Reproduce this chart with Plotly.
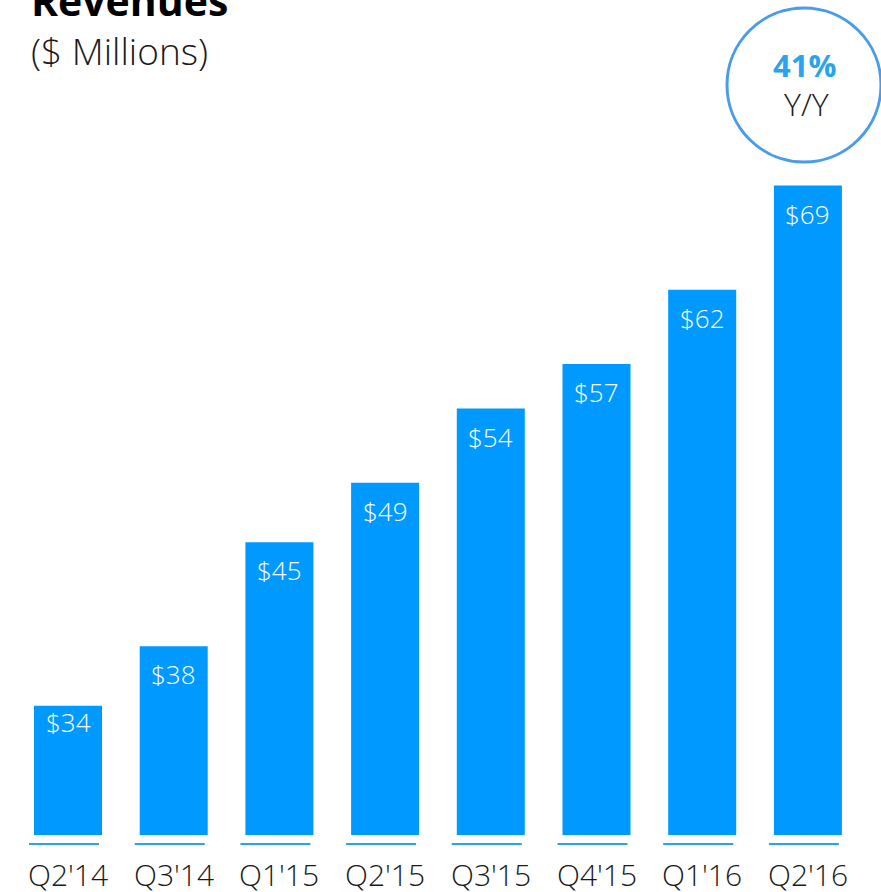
import plotly.graph_objects as go

# Quarterly revenue, $ millions
quarters = ["Q2'14", "Q3'14", "Q1'15", "Q2'15", "Q3'15", "Q4'15", "Q1'16", "Q2'16"]
revenue = [34, 38, 45, 49, 54, 57, 62, 69]
bar_labels = ["$34", "$38", "$45", "$49", "$54", "$57", "$62", "$69"]
yoy_growth = "41%"

W, H = 881, 892
PLOT_BOTTOM = 835          # pixel row of the bar baseline
PLOT_H = PLOT_BOTTOM       # plot area spans from the top edge to the baseline

BAR_BLUE = "#0099FF"
ACCENT = "#2AA3EF"
RING = "#4A9BE8"
INK = "#1a1a1a"
LIGHT = 300
FONT = "Open Sans"

y_floor = 25.3
px_per_unit = 14.86
y_top = y_floor + PLOT_H / px_per_unit

first_center, pitch = 68.0, 105.7
x_lo = -first_center / pitch
x_hi = x_lo + W / pitch


def py(p):
    """pixel row -> paper y"""
    return (PLOT_BOTTOM - p) / PLOT_H


def px(p):
    """pixel column -> paper x"""
    return p / W


xs = list(range(len(quarters)))

fig = go.Figure()
fig.add_trace(go.Bar(
    x=xs, y=revenue, width=68 / pitch,
    marker=dict(color=BAR_BLUE, line=dict(width=0)),
    hoverinfo="skip",
))

annotations = []
shapes = []
for i, (v, lab, q) in enumerate(zip(revenue, bar_labels, quarters)):
    # value label inside the top of each bar (the short first bar keeps it tighter)
    drop = -16 if i == 0 else -28
    annotations.append(dict(
        x=i, y=v, xref="x", yref="y", text=lab, showarrow=False,
        yanchor="middle", yshift=drop,
        font=dict(family=FONT, size=26, color="white", weight=LIGHT),
    ))
    # quarter label under the baseline
    annotations.append(dict(
        x=i, y=0, xref="x", yref="paper", text=q, showarrow=False,
        yanchor="middle", yshift=-39,
        font=dict(family=FONT, size=30, color=INK, weight=LIGHT),
    ))
    # short rule beneath each bar
    shapes.append(dict(
        type="line", xref="x", yref="paper",
        x0=i - 39 / pitch, x1=i + 31 / pitch, y0=py(844), y1=py(844),
        line=dict(color=ACCENT, width=2),
    ))

# title block
annotations.append(dict(
    x=px(29), y=py(0), xref="paper", yref="paper", text="<b>Revenues</b>",
    showarrow=False, xanchor="left", yanchor="middle",
    font=dict(family=FONT, size=41, color="black"),
))
annotations.append(dict(
    x=px(29), y=py(50), xref="paper", yref="paper", text="($ Millions)",
    showarrow=False, xanchor="left", yanchor="middle",
    font=dict(family=FONT, size=37, color=INK, weight=LIGHT),
))

# growth badge
shapes.append(dict(
    type="circle", xref="paper", yref="paper",
    x0=px(727), x1=px(881), y0=py(162), y1=py(8),
    line=dict(color=RING, width=3), fillcolor="white",
))
annotations.append(dict(
    x=px(804), y=py(65), xref="paper", yref="paper", text=f"<b>{yoy_growth}</b>",
    showarrow=False, xanchor="center", yanchor="middle",
    font=dict(family=FONT, size=31, color=ACCENT),
))
annotations.append(dict(
    x=px(806), y=py(104), xref="paper", yref="paper", text="Y/Y",
    showarrow=False, xanchor="center", yanchor="middle",
    font=dict(family=FONT, size=32, color=INK, weight=LIGHT),
))

fig.update_layout(
    width=W, height=H,
    margin=dict(l=0, r=0, t=0, b=H - PLOT_BOTTOM, pad=0),
    paper_bgcolor="white", plot_bgcolor="white",
    showlegend=False,
    xaxis=dict(range=[x_lo, x_hi], visible=False, fixedrange=True),
    yaxis=dict(range=[y_floor, y_top], visible=False, fixedrange=True),
    annotations=annotations,
    shapes=shapes,
)

fig.write_html("out.html")
